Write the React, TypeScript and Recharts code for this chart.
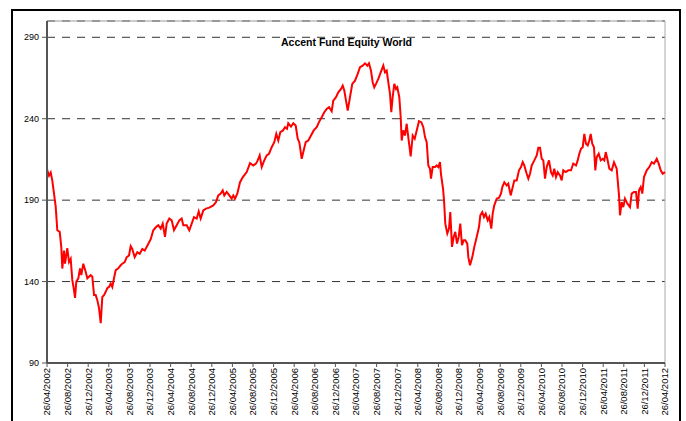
import React from 'react';
import { LineChart, Line, XAxis, YAxis, CartesianGrid, ReferenceLine } from 'recharts';

// months after 26/04/2002
const months = [
  0, 0.39, 0.72, 1.03, 1.36, 1.69, 2.0, 2.47, 2.78, 2.97,
  3.3, 3.5, 3.94, 4.27, 4.6, 4.91, 5.24, 5.44, 5.69, 6.08,
  6.41, 6.66, 7.05, 7.51, 7.83, 8.49, 8.8, 9.13, 9.46, 9.77,
  10.1, 10.43, 10.74, 11.07, 11.4, 11.71, 12.04, 12.37, 12.68, 13.01,
  13.34, 13.79, 14.31, 14.62, 15.09, 15.48, 15.92, 16.25, 16.56, 17.03,
  17.53, 18.0, 18.5, 18.97, 19.48, 20.14, 20.64,
  21.17, 21.61, 22.08, 22.47, 22.91, 23.24, 23.75, 24.21, 24.66, 25.18,
  25.69, 26.15, 26.47, 27.13, 27.63, 28.1, 28.54, 29.07, 29.46, 29.84,
  30.35, 30.87, 31.51, 32.29, 32.82, 33.26, 33.73, 34.12, 34.43, 34.89,
  35.4, 35.86, 36.17, 36.5, 36.95, 37.48, 38.0, 38.78, 39.42, 40.06,
  40.58,
  40.91, 41.3, 41.69, 42.19, 42.66, 43.11, 43.63, 44.13, 44.52, 44.91,
  45.3, 45.82, 46.21, 46.6, 46.85, 47.38, 47.83, 48.29, 48.68, 48.99,
  49.46, 49.84, 50.23, 50.74, 51.26, 51.79, 52.37, 52.81, 53.34, 53.84,
  54.31, 54.76, 55.28, 55.59, 56.12, 56.56, 57.09, 57.42, 57.73, 58.06,
  58.39, 58.83, 59.28, 59.81, 60.33, 60.78, 61.3, 61.75, 62.2, 62.52,
  62.91, 63.24, 63.55, 63.88, 64.33, 64.8, 65.3, 65.63, 65.96, 66.27,
  66.6, 66.85, 67.12, 67.44, 67.77, 68.02, 68.41, 68.68, 68.87, 69.18,
  69.51, 69.84, 70.15, 70.62, 71.01, 71.4, 71.79, 72.23, 72.68, 73.07,
  73.4, 73.73, 74.04, 74.37, 74.56, 74.89, 75.34, 75.67, 75.98, 76.31,
  76.5, 76.9, 77.09, 77.34, 77.73, 78.06, 78.31, 78.64, 78.97, 79.28,
  79.61, 79.94, 80.25, 80.58, 80.91, 81.22, 81.61, 81.81, 82.14, 82.58,
  82.97, 83.44, 83.88, 84.14, 84.52, 84.85, 85.18, 85.57, 85.88, 86.27,
  86.54, 86.85, 87.32, 87.77, 88.15, 88.41, 88.8, 89.26, 89.57, 90.04,
  90.35, 90.74, 91.2, 91.65, 92.04, 92.37, 92.68, 93.14, 93.46, 93.79,
  94.12, 94.62, 95.09, 95.4, 95.73, 96.06, 96.37, 96.7, 97.03, 97.48,
  97.86, 98.19, 98.5, 98.83, 99.16, 99.61, 99.94, 100.25, 100.72, 101.23,
  101.75, 102.19, 102.72, 103.05, 103.36, 103.69, 104.02, 104.33, 104.66, 104.99,
  105.3, 105.57, 105.88, 106.21, 106.47, 106.74, 107.13, 107.52, 107.91, 108.22,
  108.49, 108.8, 109.19, 109.65, 110.1, 110.62, 111.07, 111.26, 111.59, 111.9,
  112.23, 112.68, 113.2, 113.53, 113.98, 114.37, 114.7, 114.95, 115.28, 115.59,
  115.92, 116.45, 116.95, 117.42, 117.86, 118.39, 118.78, 119.17, 119.56, 120,
];

const fundValues = [
  209, 205, 207, 202, 194, 186, 171.5, 170.5, 161, 148,
  159, 151, 160.5, 152, 154, 141, 134.7, 130, 140, 142,
  148, 144, 151, 146, 142, 144, 143, 131.7, 131.7, 128.6,
  123.7, 114.5, 130.6, 131.7, 133.7, 136, 136.7, 138.8, 136.7, 142,
  147, 148, 150, 151, 152, 155, 156, 161.7, 160, 155,
  158, 157, 160, 159, 162, 166, 171.5,
  173.5, 174.6, 172.5, 175.6, 167.4, 175.6, 178.7, 177.6, 171.5, 174.6,
  177.6, 178.7, 174.6, 174.6, 171.5, 175.6, 179.6, 178.7, 183.1, 178.7,
  183.7, 184.8, 185.4, 186.8, 188.8, 192.9, 194, 196, 192.9, 195,
  192.9, 190.9, 192.9, 190.9, 194, 201, 204, 207.2, 212.7, 211.3,
  212.4,
  214.4, 217.5, 210.3, 214.4, 217.5, 218.5, 222.5, 225.6, 230.7, 226.6,
  231.7, 232.8, 234.8, 233.8, 237.2, 235.2, 237.2, 235.8, 227.7, 225.6,
  215.4, 220.5, 225.6, 226.6, 229.7, 232.8, 234.8, 237.9, 240.9, 244,
  246, 247.1, 244.6, 251.1, 253.2, 256.2, 258.3, 260.3, 257.3, 251.1,
  245, 253.2, 261.4, 263.4, 267.5, 271.6, 272.6, 274, 272.6, 274,
  269.5, 262.4, 259.3, 261.4, 264.5, 268.5, 272.6, 268.5, 269.5, 262.4,
  255.3, 244, 253.2, 261.4, 258.3, 259.3, 253.2, 240.9, 226.6, 232.8,
  229.7, 236.9, 228.7, 216.8, 229.7, 227.7, 232.8, 238.5, 237.9, 234.8,
  228.7, 225.6, 211.3, 209.3, 203.2, 210.3, 210.3, 211.3, 210.3, 213.3,
  206, 197, 190, 175.6, 169.5, 172.5, 182.7, 161.3, 167.4, 170.5,
  163.3, 167.4, 175.6, 162.3, 165.4, 165.4, 163.3, 155, 150, 155,
  161.3, 167.4, 173.5, 180.7, 182.7, 179.6, 181.7, 177.6, 179.6, 172.5,
  181.7, 186.8, 190.9, 191.5, 194, 198, 201, 199, 200.1, 192.9,
  197, 202.1, 202.1, 208.3, 210.3, 213.3, 211.3, 206.2, 203.2, 206.2,
  211.3, 214.4, 217.5, 222.1, 222.1, 215.4, 214.4, 203.2, 210.3, 214.4,
  207.2, 205.2, 209.3, 204.2, 207.2, 205.2, 202.1, 208.3, 207.2, 208.3,
  208.3, 212.5, 211.3, 214.4, 218.5, 221.5, 222.5, 230.7, 224.6, 223.6,
  226.6, 230.7, 224.6, 222.5, 208.3, 216.4, 218.5, 214.4, 215.4, 214.4,
  219.5, 215.4, 209.3, 208.3, 213.3, 209.3, 192.9, 180.7, 188.8, 185.7,
  190.9, 187.9, 185.7, 194, 195, 195, 184.8, 196, 198, 194,
  204.2, 208.3, 210.3, 213.3, 212.4, 215.4, 212.4, 208.3, 206.2, 207.2,
];

const tickMonths = [
  0, 4, 8, 12, 16, 20, 24, 28, 32, 36, 40, 44, 48, 52, 56, 60,
  64, 68, 72, 76, 80, 84, 88, 92, 96, 100, 104, 108, 112, 116, 120,
];

const tickLabels = [
  '26/04/2002', '26/08/2002', '26/12/2002', '26/04/2003', '26/08/2003', '26/12/2003',
  '26/04/2004', '26/08/2004', '26/12/2004', '26/04/2005', '26/08/2005', '26/12/2005',
  '26/04/2006', '26/08/2006', '26/12/2006', '26/04/2007', '26/08/2007', '26/12/2007',
  '26/04/2008', '26/08/2008', '26/12/2008', '26/04/2009', '26/08/2009', '26/12/2009',
  '26/04/2010', '26/08/2010', '26/12/2010', '26/04/2011', '26/08/2011', '26/12/2011',
  '26/04/2012',
];

const yTicks = [90, 140, 190, 240, 290];

const data = months
  .slice(0, Math.min(months.length, fundValues.length))
  .map((m, i) => ({ m, value: fundValues[i] }));

const FONT = '"Liberation Sans", Arial, sans-serif';

const DateTick = (props: any) => {
  const { x, y, payload } = props;
  const label = tickLabels[tickMonths.indexOf(payload.value)] ?? '';
  return (
    <text
      transform={`translate(${x},${y}) rotate(-90)`}
      x={0}
      y={0}
      dy="0.35em"
      textAnchor="end"
      fontSize={9.5}
      fontFamily={FONT}
      fill="#000"
    >
      {label}
    </text>
  );
};

export default function App() {
  return (
    <div style={{ position: 'fixed', left: 0, top: 0, width: 686, height: 421, background: '#fff', overflow: 'hidden', fontFamily: FONT }}>
      <div style={{ position: 'absolute', left: 11, top: 9, width: 670, height: 440, border: '2px solid #000', boxSizing: 'border-box' }} />
      <div style={{ position: 'absolute', left: 0, top: 0 }}>
        <LineChart width={686} height={421} data={data} margin={{ top: 21, right: 21, left: 0, bottom: 0 }}>
          <CartesianGrid vertical={false} strokeDasharray="8 7" stroke="#333" />
          <XAxis
            type="number"
            dataKey="m"
            domain={[0, 120]}
            ticks={tickMonths}
            interval={0}
            height={58}
            tick={<DateTick />}
            tickSize={4}
            tickMargin={1}
            axisLine={{ stroke: '#555', strokeWidth: 2 }}
            tickLine={{ stroke: '#555' }}
          />
          <YAxis
            type="number"
            domain={[90, 300]}
            ticks={yTicks}
            interval={0}
            width={47}
            tickSize={5}
            tickMargin={3}
            tick={{ fontSize: 9, fill: '#000', fontFamily: FONT }}
            axisLine={{ stroke: '#555', strokeWidth: 2 }}
            tickLine={{ stroke: '#555' }}
          />
          <ReferenceLine y={300} stroke="#999" />
          <ReferenceLine x={120} stroke="#aaa" />
          <Line type="linear" dataKey="value" stroke="#ff0000" strokeWidth={2} dot={false} isAnimationActive={false} />
        </LineChart>
      </div>
      <div style={{ position: 'absolute', left: 0, top: 36, width: 693, textAlign: 'center', fontSize: 10.5, fontWeight: 'bold', lineHeight: '12px', color: '#000' }}>
        Accent Fund Equity World
      </div>
    </div>
  );
}
